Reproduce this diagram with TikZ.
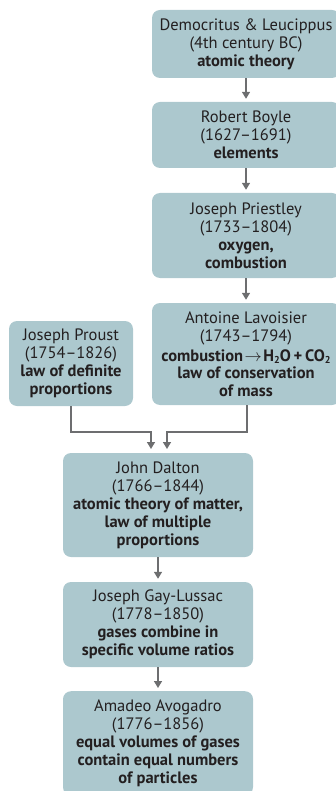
\documentclass[tikz,border=0pt]{standalone}
\usepackage{fontspec}
\setmainfont{PT Sans}
\usetikzlibrary{arrows.meta}
\definecolor{boxfill}{HTML}{ACC8CE}
\definecolor{txt}{HTML}{231F20}
\definecolor{arr}{HTML}{6D6E70}
\tikzset{
  box/.style={fill=boxfill, rounded corners=8pt, inner sep=0pt, align=center,
    text=txt, font=\fontsize{16.5}{18}\selectfont},
  conn/.style={draw=arr, line width=1.5pt, -{Triangle[length=7pt,width=8pt]}}
}
\newcommand{\subsc}[1]{\raisebox{-2pt}{\fontsize{10}{10}\selectfont #1}}
\begin{document}
\begin{tikzpicture}[x=1pt,y=-1pt]
\useasboundingbox (0,0) rectangle (335,791);
\node[box, minimum width=188pt, minimum height=68pt] (demo) at (246,44)
  {Democritus \& Leucippus\\(4th century BC)\\\textbf{atomic theory}};
\node[box, minimum width=188pt, minimum height=66pt] (boyle) at (246,135)
  {Robert Boyle\\(1627–1691)\\\textbf{elements}};
\node[box, minimum width=188pt, minimum height=85pt] (priest) at (246,235.5)
  {Joseph Priestley\\(1733–1804)\\\textbf{oxygen,}\\\textbf{combustion}};
\node[box, minimum width=188pt, minimum height=102pt] (lavo) at (246,354)
  {Antoine Lavoisier\\(1743–1794)\\[1.5pt]\textbf{combustion\kern1.5pt$\rightarrow$\kern1.5pt H\subsc{2}O\,+\,CO\subsc{2}}\\[-1pt]\textbf{law of conservation}\\\textbf{of mass}};
\node[box, minimum width=124pt, minimum height=85pt] (proust) at (71,363.5)
  {Joseph Proust\\(1754–1826)\\\textbf{law of definite}\\\textbf{proportions}};
\node[box, minimum width=190pt, minimum height=104pt] (dalton) at (158,505)
  {John Dalton\\(1766–1844)\\\textbf{atomic theory of matter,}\\\textbf{law of multiple}\\\textbf{proportions}};
\node[box, minimum width=190pt, minimum height=85pt] (gay) at (158,624.5)
  {Joseph Gay-Lussac\\(1778–1850)\\\textbf{gases combine in}\\\textbf{specific volume ratios}};
\node[box, minimum width=190pt, minimum height=104pt, anchor=north] (avo) at (158,691)
  {Amadeo Avogadro\\(1776–1856)\\\textbf{equal volumes of gases}\\\textbf{contain equal numbers}\\\textbf{of particles}};
\coordinate (dinL) at (151,449);
\coordinate (dinR) at (167,449);
\draw[conn] (demo.south) -- ([yshift=3pt]boyle.north);
\draw[conn] (boyle.south) -- ([yshift=3pt]priest.north);
\draw[conn] (priest.south) -- ([yshift=3pt]lavo.north);
\draw[conn] (proust.south) -- (proust.south |- 0,432) -| (dinL);
\draw[conn] ([xshift=1pt]lavo.south) -- ([xshift=1pt]lavo.south |- 0,432) -| (dinR);
\draw[conn] (dalton.south) -- ([yshift=3pt]gay.north);
\draw[conn] (gay.south) -- ([yshift=3pt]avo.north);
\end{tikzpicture}
\end{document}
